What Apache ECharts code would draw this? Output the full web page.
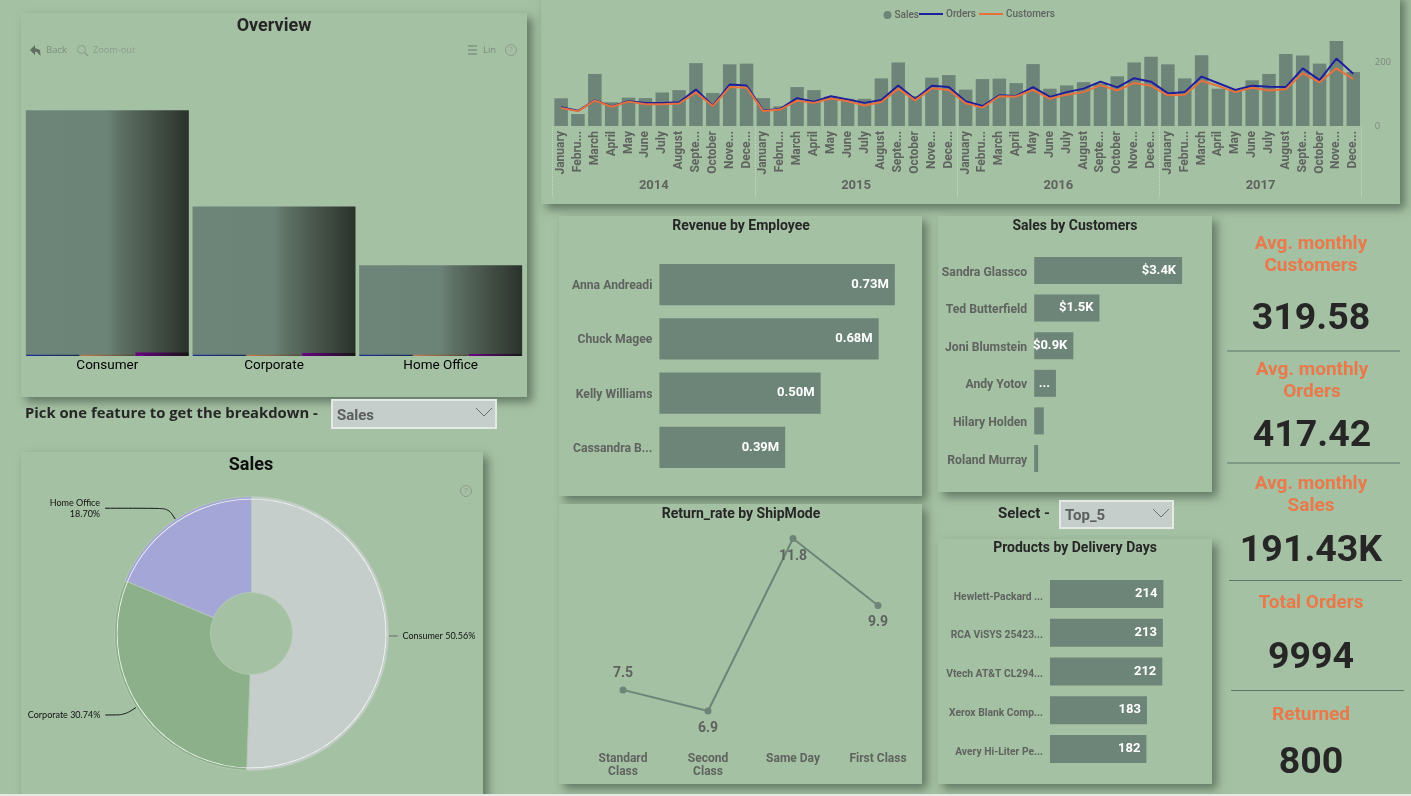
<!DOCTYPE html>
<html>
<head>
<meta charset="utf-8">
<title>Sales dashboard</title>
<style>html,body{margin:0;padding:0;background:#a5c1a3;overflow:hidden}#chart{width:1411px;height:796px}</style>
<script src="https://cdn.jsdelivr.net/npm/echarts@6/dist/echarts.min.js"></script>
</head>
<body>
<div id="chart"></div>
<script>
// Monthly trend, 2014 to 2017
const monthLabels = ['January','Febru...','March','April','May','June','July','August','Septe...','October','Nove...','Dece...'];
const years = ['2014','2015','2016','2017'];
const monthlySalesK = [
  118,51,222,101,121,119,143,153,268,141,263,266,
  119,84,166,153,125,116,116,203,271,128,206,217,
  155,200,202,183,264,159,173,187,182,212,271,295,
  263,203,302,159,156,195,222,307,301,266,362,230];
const monthlyOrders = [
  59,48,81,62,78,73,73,75,115,64,131,128,
  49,54,88,77,94,84,73,82,128,85,127,123,
  78,63,97,95,123,92,107,118,140,122,151,140,
  103,107,156,135,114,127,124,123,182,145,213,165];
const monthlyCustomers = [
  57,47,80,61,77,69,69,71,106,63,123,121,
  47,52,80,73,87,78,65,76,118,81,119,114,
  72,58,94,93,114,86,99,107,129,112,136,127,
  97,99,143,126,107,121,112,116,167,138,182,148];

// Customer segments
const segments = ['Consumer','Corporate','Home Office'];
const segmentShare = [50.56,30.74,18.70];
const segmentOrders = [0.25,0.25,0.25];
const segmentCustomers = [0.25,0.25,0.25];
const segmentProfit = [0.72,0.62,0.42];

// Ranked breakdowns
const employees = ['Anna Andreadi','Chuck Magee','Kelly Williams','Cassandra B...'];
const employeeRevenueM = [0.73,0.68,0.50,0.39];
const customers = ['Sandra Glassco','Ted Butterfield','Joni Blumstein','Andy Yotov','Hilary Holden','Roland Murray'];
const customerSalesK = [3.4,1.5,0.9,0.5,0.22,0.09];
const shipModes = ['Standard\nClass','Second\nClass','Same Day','First Class'];
const returnRates = [7.5,6.9,11.8,9.9];
const products = ['Hewlett-Packard ...','RCA ViSYS 25423...','Vtech AT&T CL294...','Xerox Blank Comp...','Avery Hi-Liter Pe...'];
const deliveryDays = [214,213,212,183,182];

// Headline figures
const kpiTitles = [['Avg. monthly','Customers'],['Avg. monthly','Orders'],['Avg. monthly','Sales'],['Total Orders'],['Returned']];
const kpiValues = ['319.58','417.42','191.43K','9994','800'];

const BG = '#a5c1a3', BAR = '#6d8579', INK = '#262626', MUTED = '#5f635f', ORANGE = '#e9794a';
const DIN = 'Roboto, sans-serif', UI = '"Open Sans", sans-serif';

const text = (x, y, str, size, fill, weight, align, family) => ({
  type: 'text', silent: true,
  style: { x, y, text: str, fill, align: align || 'center', verticalAlign: 'middle',
    font: `${weight || 'bold'} ${size}px ${family || DIN}` }
});
const panel = (x, y, w, h) => ({
  type: 'rect', silent: true, shape: { x, y, width: w, height: h },
  style: { fill: BG, shadowBlur: 9, shadowOffsetX: 5, shadowOffsetY: 5, shadowColor: 'rgba(50,70,55,0.6)' }
});
const stroke = (x1, y1, x2, y2, color, width) => ({
  type: 'line', silent: true, shape: { x1, y1, x2, y2 }, style: { stroke: color, lineWidth: width }
});
const dropdown = (x, y, w, h, str) => [
  { type: 'rect', silent: true, shape: { x, y, width: w, height: h },
    style: { fill: '#c6cecb', stroke: '#e4e9e6', lineWidth: 2 } },
  text(x + 5, y + h / 2 + 2, str, 15, '#5a5f5c', 'bold', 'left'),
  { type: 'polyline', silent: true,
    shape: { points: [[x + w - 20, y + 8], [x + w - 12, y + 16], [x + w - 4, y + 8]] },
    style: { fill: 'none', stroke: '#6b716d', lineWidth: 1 } }
];
const helpIcon = (x, y) => [
  { type: 'circle', silent: true, shape: { cx: x, cy: y, r: 5.5 }, style: { fill: 'none', stroke: '#8c9c8c', lineWidth: 1 } },
  text(x, y, '?', 8, '#8c9c8c', 'normal', 'center', UI)
];

const kpiSlots = [
  { cx: 1311, ys: [244, 266], vy: 320 },
  { cx: 1312, ys: [370, 392], vy: 437 },
  { cx: 1311, ys: [484, 506], vy: 552 },
  { cx: 1311, ys: [603], vy: 659 },
  { cx: 1311, ys: [715], vy: 764 }
];
const kpiText = [];
kpiSlots.forEach((slot, i) => {
  kpiTitles[i].forEach((t, j) => kpiText.push(text(slot.cx, slot.ys[j], t, 19, ORANGE)));
  kpiText.push(text(slot.cx, slot.vy, kpiValues[i], 37.5, INK));
});

const graphicElements = [
  panel(541, -6, 859, 210),
  panel(21, 13, 506, 384),
  panel(21, 452, 462, 350),
  panel(559, 216, 363, 280),
  panel(938, 216, 274, 276),
  panel(559, 504, 363, 280),
  panel(938, 539, 274, 245),
  // Light strip along the page foot
  { type: 'rect', silent: true, shape: { x: 0, y: 794, width: 1411, height: 2 }, style: { fill: '#e6e8e6' } },

  text(274, 26, 'Overview', 18, INK),
  text(251, 465, 'Sales', 18, '#0f0f0f'),
  text(741, 226, 'Revenue by Employee', 14, INK),
  text(1075, 226, 'Sales by Customers', 14, INK),
  text(741, 514, 'Return_rate by ShipMode', 14, INK),
  text(1075, 548, 'Products by Delivery Days', 14, INK),
  text(25, 414, 'Pick one feature to get the breakdown -', 14.8, INK, 'bold', 'left', UI),
  text(1024, 514, 'Select -', 15, INK),
  ...dropdown(332, 400, 164, 28, 'Sales'),
  ...dropdown(1060, 501, 113, 27, 'Top_5'),

  // Overview toolbar
  { type: 'polygon', silent: true,
    shape: { points: [[30, 50], [35, 45], [35, 48], [40, 50], [40.5, 56], [37, 52], [35, 52], [35, 55]] },
    style: { fill: '#5f6f62' } },
  text(46, 50.5, 'Back', 9.5, '#7f8d7f', 'normal', 'left', UI),
  { type: 'circle', silent: true, shape: { cx: 81.5, cy: 49.5, r: 4 }, style: { fill: 'none', stroke: '#8c9c8c', lineWidth: 1 } },
  stroke(84.5, 52.5, 88, 56, '#8c9c8c', 1.4),
  text(93, 50.5, 'Zoom-out', 9.2, '#8c9c8c', 'normal', 'left', UI),
  stroke(468, 46, 477, 46, '#6e7d70', 1),
  stroke(468, 50, 477, 50, '#6e7d70', 1),
  stroke(468, 54, 477, 54, '#6e7d70', 1),
  text(483, 50.5, 'Lin', 9.5, '#7f8d7f', 'normal', 'left', UI),
  ...helpIcon(511, 50),
  ...helpIcon(466, 491),

  stroke(1227, 351, 1400, 351, '#5f7569', 1.2),
  stroke(1227, 463, 1400, 463, '#5f7569', 1.2),
  stroke(1229, 580.5, 1402, 580.5, '#5f7569', 1.2),
  stroke(1231, 690.5, 1404, 690.5, '#5f7569', 1.2),
  ...kpiText
];

const barFade = (from, to) => ({
  type: 'linear', x: 0, y: 0, x2: 1, y2: 0,
  colorStops: [{ offset: 0, color: from }, { offset: 1, color: to }]
});
const segmentFade = {
  type: 'linear', x: 0, y: 0, x2: 1, y2: 0,
  colorStops: [
    { offset: 0, color: BAR }, { offset: 0.5, color: '#6c8377' }, { offset: 0.58, color: '#5e7064' },
    { offset: 0.74, color: '#4a584d' }, { offset: 1, color: '#2a322b' }
  ]
};
const valueLabel = (formatter) => ({
  show: true, position: 'insideRight', distance: 6, color: '#fff',
  fontFamily: DIN, fontWeight: 'bold', fontSize: 13, formatter
});
// A short line box anchored at the top drops the text just below the band centre.
const categoryLabel = (size, drop) => ({
  color: MUTED, fontFamily: DIN, fontWeight: 'bold', fontSize: size, margin: 7, interval: 0,
  verticalAlign: 'top', lineHeight: drop * 2
});
const hidden = { show: false };
const legendText = { color: MUTED, fontFamily: DIN, fontWeight: 500, fontSize: 10, padding: [0, 0, 0, -2] };

const repeatedMonths = years.flatMap(() => monthLabels);

const option = {
  animation: false,
  backgroundColor: BG,
  graphic: { elements: graphicElements },
  legend: [
    { data: [{ name: 'Sales', icon: 'circle' }], left: 883.5, top: 10, padding: 0, itemWidth: 8, itemHeight: 8,
      textStyle: legendText },
    { data: [{ name: 'Orders', icon: 'rect' }, { name: 'Customers', icon: 'rect' }], left: 919, top: 9, padding: 0,
      itemWidth: 24, itemHeight: 2, itemGap: 3, textStyle: legendText }
  ],
  grid: [
    { left: 552.7, top: 31, width: 809, height: 95 },
    { left: 24, top: 103.3, width: 500, height: 252.7 },
    { left: 659.4, top: 257.5, width: 258, height: 217 },
    { left: 1034.2, top: 251.7, width: 174, height: 225.6 },
    { left: 580.5, top: 531.5, width: 340, height: 211.2 },
    { left: 1050, top: 574.6, width: 160, height: 193.75 }
  ],
  xAxis: [
    { gridIndex: 0, type: 'category', data: repeatedMonths, axisLine: { show: false }, axisTick: hidden,
      axisLabel: { rotate: 90, interval: 0, margin: 5, color: MUTED, fontFamily: DIN, fontWeight: 'bold', fontSize: 12 } },
    { gridIndex: 0, type: 'category', data: years, position: 'bottom', axisLine: { show: false },
      axisTick: { show: true, length: 71, lineStyle: { color: 'rgba(225,235,225,0.55)', type: 'dotted', width: 1 } },
      axisLabel: { margin: 53, color: MUTED, fontFamily: DIN, fontWeight: 'bold', fontSize: 13 } },
    { gridIndex: 1, type: 'category', data: segments, axisLine: { show: false }, axisTick: hidden,
      axisLabel: { margin: 3, color: '#000', fontFamily: DIN, fontSize: 13.5 } },
    { gridIndex: 1, type: 'category', data: segments, show: false },
    { gridIndex: 2, type: 'value', min: 0, max: 0.8, show: false },
    { gridIndex: 3, type: 'value', min: 0, max: 4, show: false },
    { gridIndex: 4, type: 'category', data: shipModes, boundaryGap: true, axisLine: { show: false }, axisTick: hidden,
      axisLabel: { margin: 10, interval: 0, color: MUTED, fontFamily: DIN, fontWeight: 'bold', fontSize: 12, lineHeight: 13 } },
    { gridIndex: 5, type: 'value', min: 0, max: 302, show: false }
  ],
  yAxis: [
    { gridIndex: 0, type: 'value', min: 0, max: 405, show: false },
    { gridIndex: 0, type: 'value', min: 0, max: 300, interval: 200, position: 'right',
      axisLine: { show: false }, axisTick: hidden, splitLine: hidden,
      axisLabel: { margin: 13, showMaxLabel: false, color: '#7d8a7d', fontFamily: UI, fontSize: 9.5 } },
    { gridIndex: 1, type: 'value', min: 0, max: 52, show: false },
    { gridIndex: 2, type: 'category', data: employees, inverse: true, axisLine: { show: false }, axisTick: hidden,
      axisLabel: categoryLabel(12.2, 1.5) },
    { gridIndex: 3, type: 'category', data: customers, inverse: true, axisLine: { show: false }, axisTick: hidden,
      axisLabel: categoryLabel(12.2, 2) },
    { gridIndex: 4, type: 'value', min: 6, max: 12, show: false },
    { gridIndex: 5, type: 'category', data: products, inverse: true, axisLine: { show: false }, axisTick: hidden,
      axisLabel: categoryLabel(10.3, 3) }
  ],
  series: [
    { name: 'Sales', type: 'bar', xAxisIndex: 0, yAxisIndex: 0, data: monthlySalesK, barWidth: 13.5,
      itemStyle: { color: BAR } },
    { name: 'Orders', type: 'line', xAxisIndex: 0, yAxisIndex: 1, data: monthlyOrders, symbol: 'none',
      itemStyle: { color: '#1f1f9e' }, lineStyle: { color: '#1f1f9e', width: 2 } },
    { name: 'Customers', type: 'line', xAxisIndex: 0, yAxisIndex: 1, data: monthlyCustomers, symbol: 'none',
      itemStyle: { color: '#e8703a' }, lineStyle: { color: '#e8703a', width: 2 } },

    { type: 'bar', xAxisIndex: 2, yAxisIndex: 2, data: segmentShare, barWidth: 163,
      itemStyle: { color: segmentFade } },
    { type: 'bar', xAxisIndex: 3, yAxisIndex: 2, data: segmentOrders, barWidth: 53, barGap: '3%',
      itemStyle: { color: barFade('#1e2f92', '#1c2a55') } },
    { type: 'bar', xAxisIndex: 3, yAxisIndex: 2, data: segmentCustomers, barWidth: 53, barGap: '3%',
      itemStyle: { color: barFade('#c87a4a', '#4d4a3a') } },
    { type: 'bar', xAxisIndex: 3, yAxisIndex: 2, data: segmentProfit, barWidth: 53, barGap: '3%',
      itemStyle: { color: barFade('#6c0085', '#161616') } },

    { type: 'pie', center: [251.5, 633.5], radius: [41, 137], startAngle: 90, clockwise: true,
      avoidLabelOverlap: false, minAngle: 0,
      itemStyle: { borderColor: '#b9cdb8', borderWidth: 0.8 },
      label: { color: '#111', fontFamily: 'Lato, sans-serif', fontSize: 9, lineHeight: 11 },
      labelLine: { smooth: 0.3, lineStyle: { color: '#111', width: 1 } },
      data: [
        { name: segments[0], value: segmentShare[0], itemStyle: { color: '#c6cecb' },
          label: { formatter: (p) => `${p.name} ${p.value.toFixed(2)}%` },
          labelLine: { length: 3, length2: 6, lineStyle: { color: '#5f635f' } } },
        { name: segments[1], value: segmentShare[1], itemStyle: { color: '#8bb08a' },
          label: { formatter: (p) => `${p.name} ${p.value.toFixed(2)}%` },
          labelLine: { length: 14, length2: 19 } },
        { name: segments[2], value: segmentShare[2], itemStyle: { color: '#a3a6d6' },
          label: { formatter: (p) => `${p.name}\n${p.value.toFixed(2)}%`, align: 'right' },
          labelLine: { length: 13.5, length2: 63 } }
      ] },
    { type: 'pie', center: [251.5, 633.5], radius: [134, 134.8], startAngle: 90, clockwise: true, silent: true,
      label: hidden, labelLine: hidden, itemStyle: { color: '#f4f7f4' }, data: segmentShare },

    { type: 'bar', xAxisIndex: 4, yAxisIndex: 3, data: employeeRevenueM, barWidth: 41.3,
      itemStyle: { color: BAR }, label: valueLabel((p) => p.value.toFixed(2) + 'M') },
    { type: 'bar', xAxisIndex: 5, yAxisIndex: 4, data: customerSalesK, barWidth: 27,
      itemStyle: { color: BAR },
      label: valueLabel((p) => (p.value >= 0.8 ? `$${p.value.toFixed(1)}K` : p.value >= 0.4 ? '...' : '')) },
    { type: 'line', xAxisIndex: 6, yAxisIndex: 5, data: returnRates.map((v, i) => ({
        value: v, label: { position: i === 0 ? 'top' : 'bottom', distance: i === 0 ? 6 : 7 } })),
      symbol: 'circle', symbolSize: 7,
      itemStyle: { color: BAR }, lineStyle: { color: BAR, width: 2 },
      label: { show: true, color: MUTED, fontFamily: DIN, fontWeight: 'bold', fontSize: 14,
        formatter: (p) => p.value.toFixed(1) } },
    { type: 'bar', xAxisIndex: 7, yAxisIndex: 6, data: deliveryDays, barWidth: 28,
      itemStyle: { color: BAR }, label: valueLabel('{c}') }
  ]
};

echarts.init(document.getElementById('chart'), null, { renderer: 'canvas' }).setOption(option);
</script>
</body>
</html>
